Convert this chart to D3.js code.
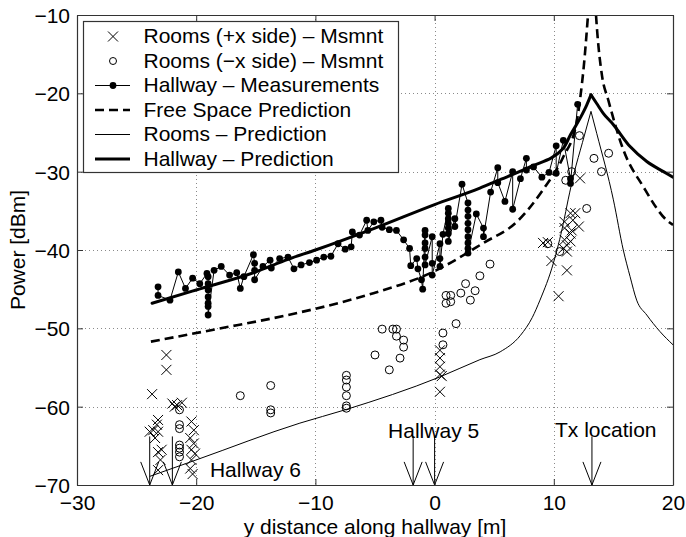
<!DOCTYPE html>
<html><head><meta charset="utf-8">
<script src="https://cdn.jsdelivr.net/npm/d3@7"></script>
<style>
body{margin:0;background:#fff}
svg{display:block}
text{font-family:"Liberation Sans",Arial,Helvetica,sans-serif;fill:#000}
</style>
</head><body>
<svg id="chart" width="686" height="537"></svg>
<script>
// ---------------- data ----------------
const xTicks = [-30, -20, -10, 0, 10, 20];
const yTicks = [-70, -60, -50, -40, -30, -20, -10];

const roomsPlusX = [
  [-22.5,-53.4],[-22.5,-55.3],[-23.7,-58.4],[-22.0,-59.6],[-21.6,-59.8],[-21.2,-59.5],[-21.8,-60.0],
  [-23.2,-61.7],[-23.3,-62.3],[-23.6,-63.0],[-23.9,-63.2],[-23.2,-63.2],[-23.45,-64.0],[-22.9,-65.5],
  [-23.2,-65.8],[-23.0,-66.8],[-23.2,-68.1],
  [-20.4,-61.9],[-20.2,-63.0],[-20.5,-64.0],[-20.2,-64.7],[-20.4,-65.5],[-20.1,-66.0],[-20.4,-66.8],
  [-20.5,-67.9],[-20.3,-68.6],
  [0.45,-52.8],[0.45,-53.8],[0.45,-54.9],[0.45,-55.9],[0.6,-56.1],[0.45,-58.1],
  [9.1,-39.1],[9.5,-39.0],[9.8,-41.4],[10.4,-45.9],[11.1,-42.6],[11.1,-40.2],[11.1,-39.4],[10.9,-38.7],
  [11.4,-37.9],[11.8,-35.3],[12.1,-37.0],[10.9,-36.4],[10.8,-39.8],[11.4,-38.9],[11.5,-37.5],[11.4,-35.3],
  [11.6,-36.2],[10.9,-37.2],[12.2,-30.85]
];

const roomsMinusX = [
  [-21.4,-60.4],[-21.4,-62.3],[-21.4,-62.8],[-21.4,-64.9],[-21.4,-65.3],[-21.4,-65.8],[-21.4,-66.4],
  [-16.3,-58.6],[-13.75,-57.3],[-13.75,-60.4],[-13.75,-60.8],
  [-7.4,-56.0],[-7.4,-56.6],[-7.4,-57.5],[-7.4,-58.6],[-7.4,-59.9],[-7.4,-60.2],
  [-5.0,-53.4],[-4.4,-50.1],[-3.8,-55.3],[-3.5,-50.1],[-3.2,-50.1],[-3.2,-51.0],[-2.6,-51.5],[-2.6,-52.4],[-2.9,-53.8],
  [0.7,-50.6],[0.7,-52.1],[0.96,-45.8],[1.35,-45.8],[0.96,-46.8],[1.35,-46.6],[1.8,-49.4],[2.2,-45.5],
  [2.6,-44.3],[3.0,-46.4],[3.4,-45.2],[3.8,-43.3],[4.65,-41.8],
  [9.5,-39.2],[10.5,-40.2],[11.0,-31.1],[11.5,-30.0],[12.15,-25.4],[12.76,-34.7],[13.37,-28.3],[14.6,-27.65],[14.0,-30.0]
];

const hallwayMeas = [
  [-23.2,-44.7],[-23.2,-45.8],[-22.2,-46.4],[-21.5,-42.8],[-20.9,-44.9],[-20.3,-43.6],[-19.7,-44.3],[-19.1,-43.0],
  [-19.0,-43.4],[-19.0,-44.3],[-19.0,-45.1],[-19.0,-46.0],[-19.0,-46.8],[-19.0,-47.2],[-19.0,-48.3],
  [-18.5,-42.6],[-17.9,-42.1],[-17.2,-43.2],[-16.6,-42.9],[-16.3,-44.9],[-16.0,-43.4],[-15.2,-40.6],[-15.1,-41.7],
  [-15.1,-42.6],[-15.1,-43.8],[-14.4,-42.1],[-13.8,-41.3],[-13.7,-42.3],[-13.0,-41.1],[-12.3,-40.9],
  [-11.8,-42.4],[-11.2,-41.9],[-10.5,-41.6],[-9.9,-41.3],[-9.3,-40.9],[-8.7,-40.8],[-8.1,-39.2],[-7.5,-39.9],
  [-7.0,-39.6],[-6.9,-37.7],[-6.3,-38.1],[-5.7,-36.2],[-5.6,-37.5],[-5.1,-36.4],[-4.5,-36.2],[-4.4,-37.1],
  [-3.8,-37.4],[-3.2,-37.5],[-2.6,-38.7],[-2.1,-39.8],[-2.0,-42.0],[-1.5,-41.1],[-1.4,-42.4],[-1.1,-43.8],[-1.0,-45.0],
  [-0.8,-37.5],[-0.8,-38.1],[-0.8,-39.1],[-0.8,-39.8],[-0.8,-40.9],[-0.8,-41.9],
  [-0.2,-38.3],[-0.2,-41.7],[-0.2,-43.2],[0.45,-39.2],[0.45,-41.1],[0.45,-42.1],[0.7,-38.0],
  [1.15,-34.7],[1.15,-35.3],[1.15,-36.0],[1.15,-36.6],[1.15,-37.2],[1.15,-37.9],[1.15,-38.9],
  [1.7,-36.0],[1.7,-37.0],[2.3,-31.6],
  [2.8,-34.0],[2.8,-34.9],[2.8,-35.7],[2.8,-36.6],[2.8,-37.4],[2.8,-38.3],[2.8,-39.1],[2.8,-39.8],[2.8,-40.4],
  [3.5,-35.4],[4.1,-37.2],[4.1,-38.3],[4.7,-32.6],[5.3,-29.5],[5.3,-31.4],[5.9,-33.8],[6.55,-30.0],[6.55,-34.8],
  [7.2,-30.9],[7.7,-28.3],[7.7,-29.8],[8.3,-29.4],[9.0,-30.7],[9.6,-30.1],[10.2,-26.7],[10.2,-30.2],[10.8,-26.0],
  [11.4,-30.9],[11.4,-31.5],[12.0,-21.4]
];

const freeSpaceLeft = [
  [-23.8,-51.7],[-18.3,-50.1],[-12.3,-48.3],[-6.0,-45.9],[0,-42.7],[4.1,-39.1],[6.9,-36.4],[9.1,-32.3],
  [10.8,-28.1],[11.9,-23.8],[12.2,-20.8],[12.55,-16.0],[12.87,-10]
];
const freeSpaceRight = [
  [13.54,-10],[13.65,-12.3],[14.05,-17.8],[14.57,-20.85],[15.83,-27.2],[17.5,-31.9],[19.47,-36.2],[20,-36.8]
];

const roomsPred = [
  [-23.9,-68.9],[-20,-66.8],[-11.3,-62.1],[-7.5,-60.4],[0.45,-56.2],[3.8,-54.0],[5.5,-53.0],[7.2,-50.9],
  [8.2,-48.6],[8.84,-46.4],[9.96,-41.7],[10.8,-36.6],[11.2,-33.6],[11.7,-30.2],[12.4,-26.3],[13.12,-22.3],
  [13.6,-25.1],[15.0,-33.6],[15.83,-40.0],[16.4,-43.4],[16.95,-46.4],[17.8,-48.3],[18.9,-50.4],[20,-52.1]
];

const hallwayPred = [
  [-23.7,-46.8],[-20,-45.1],[-15,-42.8],[-12.3,-41.2],[-10,-40.0],[-5,-37.2],[0,-34.2],[3.8,-32.1],[5.2,-31.2],
  [8,-29.4],[10.8,-27.0],[11.4,-25.3],[12.2,-23.2],[12.76,-21.5],[13.12,-20.2],[13.6,-21.3],[14.15,-22.55],
  [15,-24.0],[16.4,-26.8],[17.8,-28.7],[19.2,-30.0],[20,-30.7]
];

const arrowX = [-23.9, -22.0, -1.8, 0, 13.2];
const annotations = [
  {text: "Hallway 6", x: -18.85, y: -68.95},
  {text: "Hallway 5", x: -3.9, y: -64.05},
  {text: "Tx location", x: 10.1, y: -63.9}
];
const legendLabels = [
  "Rooms (+x side) \u2013 Msmnt",
  "Rooms (\u2212x side) \u2013 Msmnt",
  "Hallway \u2013 Measurements",
  "Free Space Prediction",
  "Rooms \u2013 Prediction",
  "Hallway \u2013 Prediction"
];

// ---------------- drawing ----------------
const FS = 21;
const svg = d3.select("#chart");
const L = 77, R = 673, T = 15, B = 485;
const x = d3.scaleLinear().domain([-30, 20]).range([L, R]);
const y = d3.scaleLinear().domain([-70, -10]).range([B, T]);
const fmt = d => (d < 0 ? "\u2212" + Math.abs(d) : String(d));

svg.append("defs").append("clipPath").attr("id", "clip")
  .append("rect").attr("x", L).attr("y", T).attr("width", R - L).attr("height", B - T);

// grid
const grid = svg.append("g").attr("stroke", "#8a8a8a").attr("stroke-width", 1).attr("stroke-dasharray", "1,3");
grid.selectAll(".gx").data(xTicks.slice(1, -1)).join("line")
  .attr("x1", d => Math.round(x(d)) + 0.5).attr("x2", d => Math.round(x(d)) + 0.5)
  .attr("y1", T).attr("y2", B);
grid.selectAll(".gy").data(yTicks.slice(1, -1)).join("line")
  .attr("y1", d => Math.round(y(d)) + 0.5).attr("y2", d => Math.round(y(d)) + 0.5)
  .attr("x1", L).attr("x2", R);

const plot = svg.append("g").attr("clip-path", "url(#clip)");
const line = d3.line().x(d => x(d[0])).y(d => y(d[1]));
const smooth = d3.line().x(d => x(d[0])).y(d => y(d[1])).curve(d3.curveMonotoneX);
// split a peaked series at its maximum so each branch can be smoothed and the cusp stays sharp
const branches = s => {
  const k = d3.maxIndex(s, d => d[1]);
  return [s.slice(0, k + 1), s.slice(k)];
};

// Rooms +x : crosses
const cs = 5;
plot.append("g").attr("stroke", "#000").attr("stroke-width", 1).attr("fill", "none")
  .selectAll("path").data(roomsPlusX).join("path")
  .attr("d", d => {
    const px = x(d[0]), py = y(d[1]);
    return `M${px - cs},${py - cs}L${px + cs},${py + cs}M${px - cs},${py + cs}L${px + cs},${py - cs}`;
  });

// Rooms -x : open circles
plot.append("g").attr("stroke", "#000").attr("stroke-width", 1).attr("fill", "none")
  .selectAll("circle").data(roomsMinusX).join("circle")
  .attr("cx", d => x(d[0])).attr("cy", d => y(d[1])).attr("r", 4);

// Hallway measurements
plot.append("path").datum(hallwayMeas).attr("d", line)
  .attr("fill", "none").attr("stroke", "#000").attr("stroke-width", 1);
plot.append("g").selectAll("circle").data(hallwayMeas).join("circle")
  .attr("cx", d => x(d[0])).attr("cy", d => y(d[1])).attr("r", 3.4).attr("fill", "#000");

// Free space prediction (dashed)
[freeSpaceLeft, freeSpaceRight].forEach(seg => {
  plot.append("path").datum(seg).attr("d", smooth)
    .attr("fill", "none").attr("stroke", "#000").attr("stroke-width", 2.6)
    .attr("stroke-dasharray", "9,5");
});

// Rooms prediction (thin)
branches(roomsPred).forEach(seg => {
  plot.append("path").datum(seg).attr("d", smooth)
    .attr("fill", "none").attr("stroke", "#000").attr("stroke-width", 1);
});

// Hallway prediction (thick)
branches(hallwayPred).forEach(seg => {
  plot.append("path").datum(seg).attr("d", smooth)
    .attr("fill", "none").attr("stroke", "#000").attr("stroke-width", 3).attr("stroke-linecap", "round");
});

// Arrows
const arrows = svg.append("g").attr("stroke", "#000").attr("stroke-width", 1).attr("fill", "none");
arrows.selectAll("path").data(arrowX).join("path")
  .attr("d", d => {
    const px = x(d), top = y(-63.8), bot = y(-70), hy = y(-67.05);
    return `M${px},${top}L${px},${bot}M${px - 9},${hy}L${px},${bot}L${px + 9},${hy}`;
  });

// Annotations
svg.append("g").selectAll("text").data(annotations).join("text")
  .attr("x", d => x(d.x)).attr("y", d => y(d.y))
  .attr("font-size", FS).text(d => d.text);

// Axes (ticks inside, box)
const axisColor = "#333";
const xb = svg.append("g").attr("transform", `translate(0,${B})`)
  .call(d3.axisBottom(x).tickValues(xTicks).tickSizeInner(-6).tickSizeOuter(0).tickPadding(10.5).tickFormat(fmt));
const xt = svg.append("g").attr("transform", `translate(0,${T})`)
  .call(d3.axisTop(x).tickValues(xTicks).tickSizeInner(-6).tickSizeOuter(0).tickFormat(""));
const yl = svg.append("g").attr("transform", `translate(${L},0)`)
  .call(d3.axisLeft(y).tickValues(yTicks).tickSizeInner(-6).tickSizeOuter(0).tickPadding(7).tickFormat(fmt));
const yr = svg.append("g").attr("transform", `translate(${R},0)`)
  .call(d3.axisRight(y).tickValues(yTicks).tickSizeInner(-6).tickSizeOuter(0).tickFormat(""));
[xb, xt, yl, yr].forEach(g => {
  g.selectAll("path").attr("stroke", axisColor).attr("stroke-width", 1.2);
  g.selectAll("line").attr("stroke", axisColor);
  g.selectAll("text").attr("font-size", FS).attr("font-family", "Liberation Sans, Arial, sans-serif").attr("fill", "#000");
});
yl.selectAll("text").attr("dy", "0.36em");

// Axis titles
svg.append("text").attr("x", (L + R) / 2).attr("y", 534).attr("text-anchor", "middle")
  .attr("font-size", FS).text("y distance along hallway [m]");
svg.append("text").attr("transform", `translate(25,${(T + B) / 2}) rotate(-90)`).attr("text-anchor", "middle")
  .attr("font-size", FS).text("Power [dBm]");

// Legend
const lg = svg.append("g");
lg.append("rect").attr("x", 83.5).attr("y", 21.5).attr("width", 315).attr("height", 151)
  .attr("fill", "#fff").attr("stroke", "#333").attr("stroke-width", 1.2);
const rowY = i => 43.3 + i * 24.5;
const symX = 113, lx1 = 95, lx2 = 130;
legendLabels.forEach((lab, i) => {
  const by = rowY(i), sy = by - 6.8;
  lg.append("text").attr("x", 143.5).attr("y", by).attr("font-size", FS).text(lab);
  if (i === 0) {
    lg.append("path").attr("d", `M${symX - cs},${sy - cs}L${symX + cs},${sy + cs}M${symX - cs},${sy + cs}L${symX + cs},${sy - cs}`)
      .attr("stroke", "#000").attr("fill", "none");
  } else if (i === 1) {
    lg.append("circle").attr("cx", symX).attr("cy", sy).attr("r", 3.5).attr("stroke", "#000").attr("fill", "none");
  } else if (i === 2) {
    lg.append("line").attr("x1", lx1).attr("x2", lx2).attr("y1", sy).attr("y2", sy).attr("stroke", "#000");
    lg.append("circle").attr("cx", symX).attr("cy", sy).attr("r", 3.4).attr("fill", "#000");
  } else if (i === 3) {
    lg.append("line").attr("x1", lx1).attr("x2", lx2).attr("y1", sy).attr("y2", sy)
      .attr("stroke", "#000").attr("stroke-width", 2.6).attr("stroke-dasharray", "9,5");
  } else if (i === 4) {
    lg.append("line").attr("x1", lx1).attr("x2", lx2).attr("y1", sy).attr("y2", sy).attr("stroke", "#000");
  } else {
    lg.append("line").attr("x1", lx1).attr("x2", lx2).attr("y1", sy).attr("y2", sy)
      .attr("stroke", "#000").attr("stroke-width", 3);
  }
});
</script>
</body></html>
